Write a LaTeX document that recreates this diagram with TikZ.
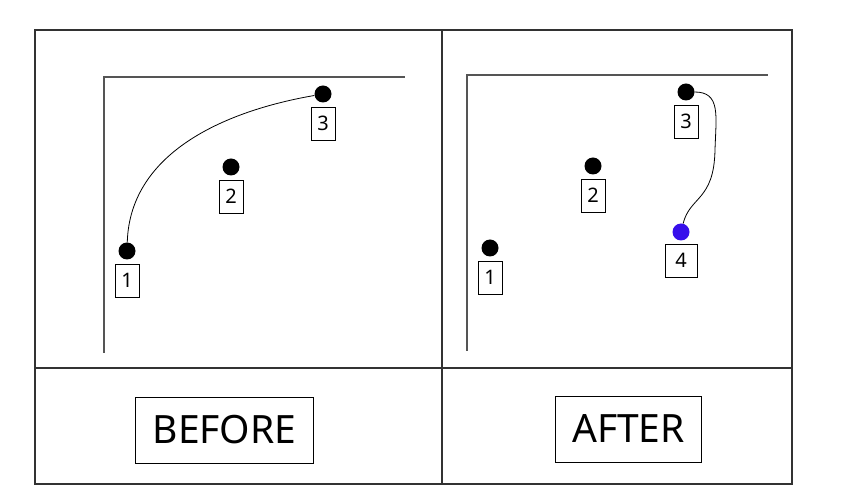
\documentclass[tikz,border=0pt]{standalone}
\usepackage{fontspec}
\setmainfont{Noto Sans}
\usetikzlibrary{positioning}
\begin{document}
\begin{tikzpicture}[x=1pt,y=1pt,
  dot/.style={circle,fill=black,inner sep=0pt,minimum size=17pt},
  numbox/.style={draw=black,line width=0.8pt,inner sep=0pt,minimum width=24pt,minimum height=33pt,font=\fontsize{20}{20}\selectfont},
  tagbox/.style={draw=black,line width=0.8pt,inner xsep=17pt,inner ysep=0pt,minimum height=66pt,font=\fontsize{39}{39}\selectfont}]
\definecolor{fillColor}{RGB}{255,255,255}
\definecolor{frameColor}{RGB}{50,50,50}
\definecolor{axisColor}{RGB}{85,85,85}
\definecolor{newColor}{RGB}{55,15,235}
\path[use as bounding box,fill=fillColor] (0,0) rectangle (847,501);

% frame
\path[draw=frameColor,line width=1.3pt] ( 35, 17) rectangle (792,471);
\path[draw=frameColor,line width=1.3pt] (442, 17) -- (442,471);
\path[draw=frameColor,line width=1.3pt] ( 35,133) -- (792,133);

% before
\path[draw=axisColor,line width=1.5pt] (104,148) -- (104,424) -- (405,424);

\node[dot] (b1) at (127,250) {};
\node[dot] (b2) at (231,334) {};
\node[dot] (b3) at (323,407) {};
\node[numbox,below=4pt of b1] (bn1) {1};
\node[numbox,below=4pt of b2] (bn2) {2};
\node[numbox,below=4pt of b3] (bn3) {3};

\draw[line width=0.8pt] (b1) .. controls (130,351) and (230,391) .. (b3);

% after
\path[draw=axisColor,line width=1.5pt] (467,150) -- (467,426) -- (768,426);

\node[dot] (a1) at (490,253) {};
\node[dot] (a2) at (593,335) {};
\node[dot] (a3) at (686,409) {};
\node[dot,fill=newColor] (a4) at (681,269) {};
\node[numbox,below=4pt of a1] (an1) {1};
\node[numbox,below=4pt of a2] (an2) {2};
\node[numbox,below=4pt of a3] (an3) {3};
\node[numbox,minimum width=32pt,below=3pt of a4] (an4) {4};

\coordinate (bend) at (715,351);
\draw[line width=0.8pt] (a3) .. controls (721,409) and (716,385) .. (bend)
  .. controls (714,300) and (690,305) .. (a4);

% tags
\node[tagbox] (before) at (224.5,71) {BEFORE};
\node[tagbox] (after) at (628.5,72) {AFTER};
\end{tikzpicture}
\end{document}
